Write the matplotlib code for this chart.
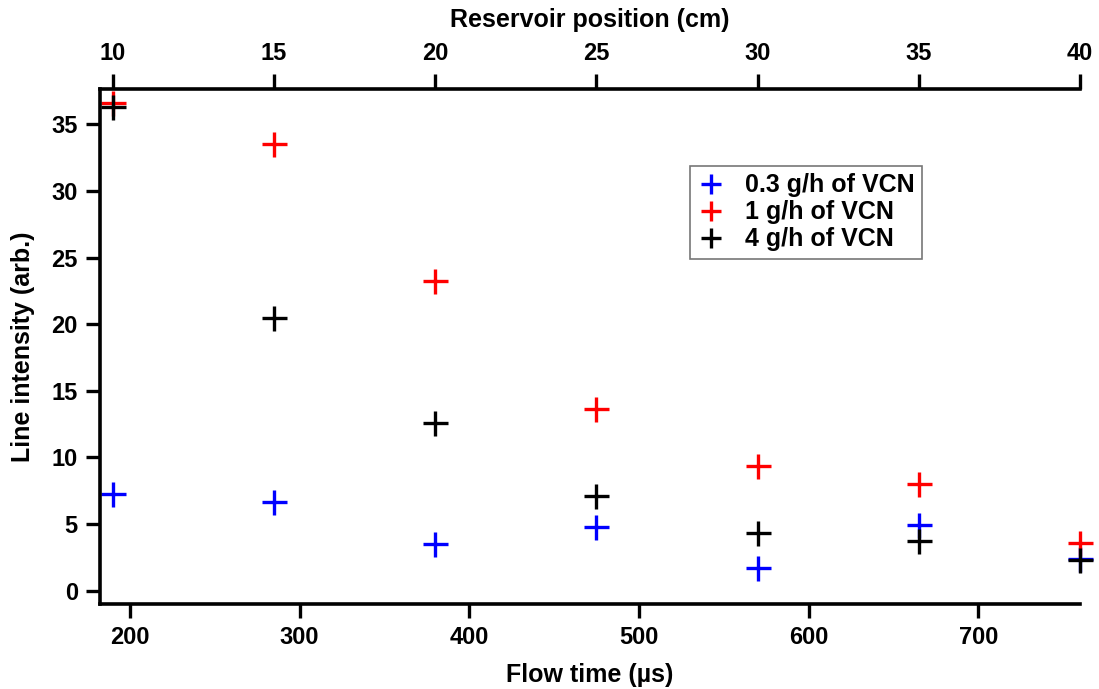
import matplotlib.pyplot as plt

plt.rcParams["font.family"] = ["Liberation Sans", "DejaVu Sans"]
plt.rcParams["font.weight"] = "bold"

# flow time in microseconds, reservoir position = flow time / 19
flow_time = [190, 285, 380, 475, 570, 665, 760]
low_rate = [7.24, 6.63, 3.54, 4.77, 1.73, 4.92, 2.41]
mid_rate = [36.6, 33.5, 23.25, 13.6, 9.37, 8.02, 3.57]
high_rate = [36.3, 20.5, 12.55, 7.14, 4.32, 3.72, 2.29]

series = [
    ("0.3 g/h of VCN", low_rate, "#0000ff"),
    ("1 g/h of VCN", mid_rate, "#ff0000"),
    ("4 g/h of VCN", high_rate, "#000000"),
]

fig = plt.figure(figsize=(10.99, 6.89), dpi=100)
ax = fig.add_axes([100 / 1099, 85 / 689, 980 / 1099, 515 / 689])

for label, values, color in series:
    ax.plot(flow_time, values, linestyle="none", marker="+", markersize=18,
            markeredgewidth=2.4, color=color, label=label, clip_on=False)

ax.set_xlim(182.4, 760)
ax.set_ylim(-1.0, 37.65)
ax.set_xticks([200, 300, 400, 500, 600, 700])
ax.set_yticks([0, 5, 10, 15, 20, 25, 30, 35])

for side in ("left", "bottom"):
    ax.spines[side].set_linewidth(2.6)
ax.spines["right"].set_visible(False)
ax.spines["top"].set_visible(False)

ax.tick_params(axis="both", direction="out", length=10, width=2.4,
               labelsize=17, pad=6)

ax.set_xlabel("Flow time (µs)", fontsize=18, fontweight="bold", labelpad=10)
ax.set_ylabel("Line intensity (arb.)", fontsize=18, fontweight="bold", labelpad=12)

top = ax.secondary_xaxis("top", functions=(lambda x: x / 19.0, lambda x: x * 19.0))
top.set_xticks([10, 15, 20, 25, 30, 35, 40])
top.spines["top"].set_linewidth(2.6)
top.tick_params(direction="out", length=11, width=2.4, labelsize=17, pad=6)
top.set_xlabel("Reservoir position (cm)", fontsize=18, fontweight="bold", labelpad=11)

leg = ax.legend(loc="upper left", bbox_to_anchor=(0.602, 0.8505),
                fontsize=18, frameon=True, fancybox=False, edgecolor="#555555",
                handlelength=1.1, handletextpad=0.8, borderpad=0.3,
                labelspacing=0.12, markerscale=0.8, borderaxespad=0)
leg.get_frame().set_linewidth(1.2)
for t in leg.get_texts():
    t.set_fontweight("bold")

fig.savefig("out.png", dpi=100)
